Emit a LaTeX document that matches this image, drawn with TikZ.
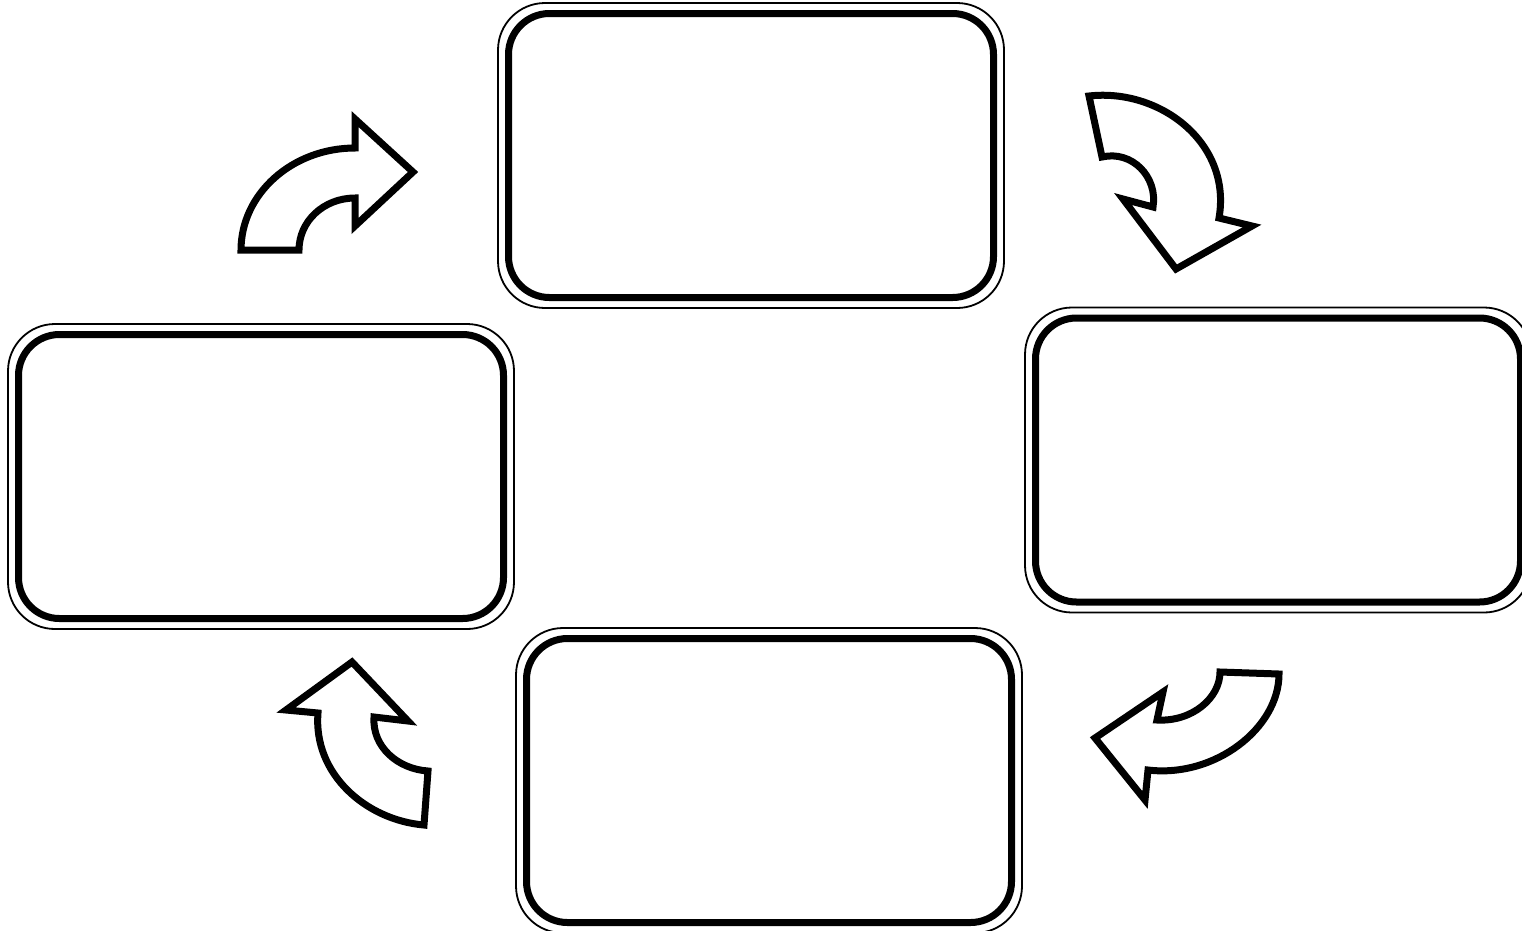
\documentclass[tikz,border=0pt]{standalone}
\begin{document}
\begin{tikzpicture}[x=1pt,y=-1pt,
  stagebox/.style={draw=black,line width=7pt,rounded corners=41pt,inner sep=0pt,
    minimum width=485pt,minimum height=284pt,fill=white},
  outerline/.style={draw=black,line width=1.8pt,rounded corners=47pt},
  blockarrow/.style={draw=black,line width=7pt,line join=miter,fill=white}]
\useasboundingbox (0,0) rectangle (1522,930);
\fill[white] (0,0) rectangle (1522,930);
% boxes
\node[stagebox] (top) at (751,155.5) {};
\node[stagebox] (left) at (261,476.5) {};
\node[stagebox] (right) at (1278,460) {};
\node[stagebox] (bottom) at (769,780.5) {};
\foreach \b in {top,left,right,bottom}{
  \draw[outerline] ([shift={(-7,-7)}]\b.north west) rectangle ([shift={(7,7)}]\b.south east);
}
% curved block arrows
\draw[blockarrow] (241,250) .. controls (241,194) and (292,148) .. (355,148)
  -- (355,119) -- (413,172) -- (355,226) -- (355,198)
  .. controls (324,198) and (299,221) .. (299,250) -- cycle;
\draw[blockarrow] (1089,96) .. controls (1160,88) and (1232,143) .. (1219,218)
  -- (1252,226) -- (1176,269) -- (1123,199) -- (1153,207)
  .. controls (1158,177) and (1132,150) .. (1102,157) -- cycle;
\draw[blockarrow] (1220,672) -- (1279,674) .. controls (1279,728) and (1215,778) .. (1148,770)
  -- (1145,800) -- (1095,738) -- (1163,692) -- (1157,720)
  .. controls (1192,722) and (1220,698) .. (1220,672) -- cycle;
\draw[blockarrow] (424,825) .. controls (366,820) and (313,774) .. (318,713)
  -- (286,710) -- (352,662) -- (408,721) -- (374,717)
  .. controls (372,747) and (398,769) .. (428,771) -- cycle;
\end{tikzpicture}
\end{document}
